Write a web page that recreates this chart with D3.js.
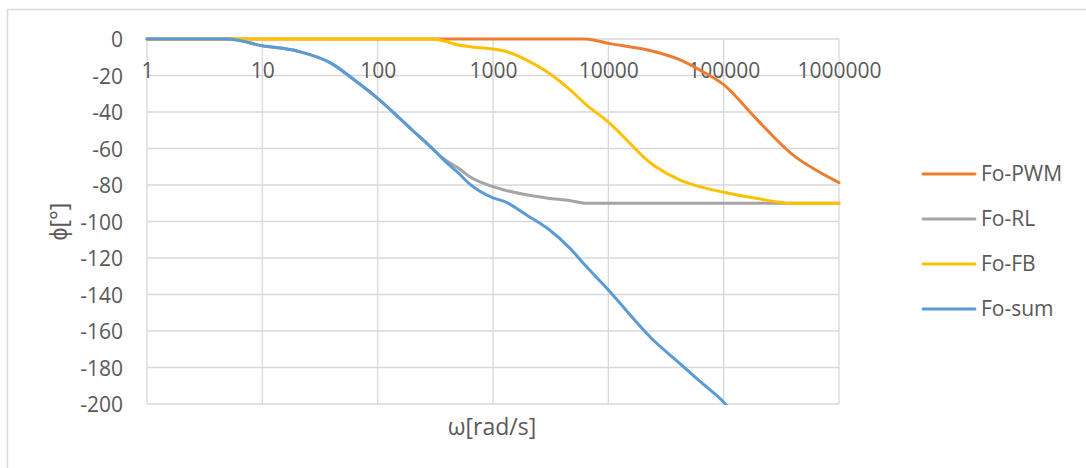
<!DOCTYPE html>
<html>
<head>
<meta charset="utf-8">
<script src="https://cdn.jsdelivr.net/npm/d3@7"></script>
<style>
  html, body { margin: 0; padding: 0; background: #ffffff; }
  svg { display: block; }
  text { font-family: "Open Sans", "Liberation Sans", sans-serif; fill: #595959; }
</style>
</head>
<body>
<svg id="chart" width="1086" height="468"></svg>
<script>
// Angular frequency samples [rad/s]
const omega = [1, 5, 10, 20, 40, 60, 100, 200, 300, 370, 500, 630, 1000, 1250, 2000,
  3000, 4700, 6300, 10000, 25000, 42000, 62000, 100000, 190000, 400000, 630000, 1000000];

// Phase of each transfer function [deg]
const foPWM = [0, 0, 0, 0, 0, 0, 0, 0, 0, 0, 0, 0, 0, 0, 0, 0, 0, 0,
  -2.4, -6.9, -11.5, -17, -25, -43.5, -63.6, -71.8, -78.7];
const foRL = [0, 0, -3.7, -6.6, -13.5, -21.5, -32.5, -50, -60.2, -65.4, -70.7, -75.5,
  -80.9, -82.7, -85.5, -87.2, -88.6, -90, -90, -90, -90, -90, -90, -90, -90, -90, -90];
const foFB = [0, 0, 0, 0, 0, 0, 0, 0, 0, -1, -3.3, -4.2, -5.5, -6.6, -11.8, -18.3,
  -28, -35.5, -45.5, -69.5, -77.3, -80.9, -84, -87.3, -90, -90, -90];
const foSum = [0, 0, -3.7, -6.6, -13.5, -21.5, -32.5, -50, -60.2, -66, -73.4, -79.5,
  -87, -89, -96.8, -104, -115, -124, -137.5, -165.5, -178, -187.5, -199, -220.8,
  -243.6, -251.8, -258.7];

const seriesNames = ["Fo-PWM", "Fo-RL", "Fo-FB", "Fo-sum"];
const seriesColors = ["#ED7D31", "#A5A5A5", "#FFC000", "#5B9BD5"];
const seriesValues = [foPWM, foRL, foFB, foSum];

const xTicks = [1, 10, 100, 1000, 10000, 100000, 1000000];
const yTicks = [0, -20, -40, -60, -80, -100, -120, -140, -160, -180, -200];

const xTitle = "ω[rad/s]";
const yTitle = "ϕ[°]";

const svg = d3.select("#chart");

// chart area border
svg.append("rect")
  .attr("x", 7.5).attr("y", 9.5)
  .attr("width", 1100).attr("height", 480)
  .attr("fill", "none").attr("stroke", "#d9d9d9").attr("stroke-width", 1.5);

const plot = { left: 147, right: 839, top: 39, bottom: 404 };

const x = d3.scaleLog().domain([1, 1000000]).range([plot.left, plot.right]);
const y = d3.scaleLinear().domain([-200, 0]).range([plot.bottom, plot.top]);

// plain number labels with an ASCII hyphen for negatives
const numLabel = d => String(d);

// gridlines
const grid = svg.append("g").attr("stroke", "#d9d9d9").attr("stroke-width", 1.3);
grid.selectAll("line.h").data(yTicks).join("line")
  .attr("class", "h")
  .attr("x1", plot.left).attr("x2", plot.right)
  .attr("y1", d => y(d)).attr("y2", d => y(d));
grid.selectAll("line.v").data(xTicks).join("line")
  .attr("class", "v")
  .attr("x1", d => x(d)).attr("x2", d => x(d))
  .attr("y1", plot.top).attr("y2", plot.bottom);

// y tick labels
const yAxis = d3.axisLeft(y).tickValues(yTicks).tickSize(0).tickPadding(0)
  .tickFormat(numLabel);
const gy = svg.append("g").attr("transform", `translate(123,0)`).call(yAxis);
gy.select(".domain").remove();
gy.selectAll("text")
  .attr("x", 0).attr("dy", "0.36em")
  .style("font-size", "21px").style("font-family", "'Open Sans', sans-serif")
  .attr("fill", "#595959");

// x tick labels (axis crosses at 0, labels sit just below it)
const xAxis = d3.axisBottom(x).tickValues(xTicks).tickSize(0).tickPadding(0)
  .tickFormat(numLabel);
const gx = svg.append("g").attr("transform", `translate(0,${y(0)})`).call(xAxis);
gx.select(".domain").remove();
gx.selectAll("text")
  .attr("y", 31).attr("dy", "0.36em")
  .style("font-size", "21px").style("font-family", "'Open Sans', sans-serif")
  .attr("fill", "#595959");

// series lines
svg.append("clipPath").attr("id", "plotClip")
  .append("rect")
  .attr("x", plot.left - 2).attr("y", plot.top - 3)
  .attr("width", plot.right - plot.left + 4).attr("height", plot.bottom - plot.top + 4);

const line = d3.line()
  .x((d, i) => x(omega[i]))
  .y(d => y(d))
  .curve(d3.curveMonotoneX);

const lines = svg.append("g").attr("clip-path", "url(#plotClip)");
seriesValues.forEach((vals, k) => {
  lines.append("path")
    .datum(vals)
    .attr("d", line)
    .attr("fill", "none")
    .attr("stroke", seriesColors[k])
    .attr("stroke-width", 3)
    .attr("stroke-linejoin", "round")
    .attr("stroke-linecap", "round");
});

// axis titles
svg.append("text")
  .attr("x", (plot.left + plot.right) / 2 - 1).attr("y", 427)
  .attr("dy", "0.35em").attr("text-anchor", "middle")
  .style("font-size", "23px")
  .text(xTitle);

svg.append("text")
  .attr("transform", `translate(59,${(plot.top + plot.bottom) / 2}) rotate(-90)`)
  .attr("dy", "0.35em").attr("text-anchor", "middle")
  .style("font-size", "23px")
  .text(yTitle);

// legend
const legend = svg.append("g");
seriesNames.forEach((name, k) => {
  const ly = 174 + k * 45;
  legend.append("line")
    .attr("x1", 923).attr("x2", 975)
    .attr("y1", ly).attr("y2", ly)
    .attr("stroke", seriesColors[k]).attr("stroke-width", 3)
    .attr("stroke-linecap", "round");
  legend.append("text")
    .attr("x", 981).attr("y", ly).attr("dy", "0.35em")
    .style("font-size", "21px")
    .text(name);
});
</script>
</body>
</html>
